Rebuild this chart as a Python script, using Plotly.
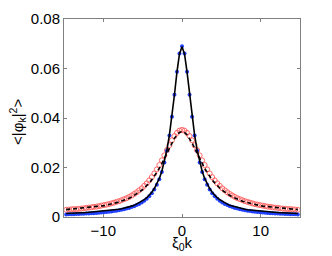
import plotly.graph_objects as go

k_vals = [-14.72, -14.40, -14.08, -13.76, -13.44, -13.12, -12.80, -12.48, -12.16, -11.84,
          -11.52, -11.20, -10.88, -10.56, -10.24, -9.92, -9.60, -9.28, -8.96, -8.64,
          -8.32, -8.00, -7.68, -7.36, -7.04, -6.72, -6.40, -6.08, -5.76, -5.44,
          -5.12, -4.80, -4.48, -4.16, -3.84, -3.52, -3.20, -2.88, -2.56, -2.24,
          -1.92, -1.60, -1.28, -0.96, -0.64, -0.32, 0.00,
          0.32, 0.64, 0.96, 1.28, 1.60, 1.92, 2.24, 2.56, 2.88, 3.20,
          3.52, 3.84, 4.16, 4.48, 4.80, 5.12, 5.44, 5.76, 6.08, 6.40,
          6.72, 7.04, 7.36, 7.68, 8.00, 8.32, 8.64, 8.96, 9.28, 9.60,
          9.92, 10.24, 10.56, 10.88, 11.20, 11.52, 11.84, 12.16, 12.48, 12.80,
          13.12, 13.44, 13.76, 14.08, 14.40, 14.72]

blue_sim = [0.0010, 0.0011, 0.0011, 0.0011, 0.0012, 0.0012, 0.0013, 0.0013, 0.0014, 0.0014,
            0.0015, 0.0015, 0.0016, 0.0017, 0.0018, 0.0019, 0.0020, 0.0021, 0.0022, 0.0024,
            0.0025, 0.0027, 0.0029, 0.0031, 0.0034, 0.0036, 0.0040, 0.0043, 0.0048, 0.0053,
            0.0059, 0.0066, 0.0074, 0.0084, 0.0096, 0.0111, 0.0130, 0.0153, 0.0182, 0.0220,
            0.0268, 0.0329, 0.0405, 0.0494, 0.0587, 0.0661, 0.0690,
            0.0661, 0.0587, 0.0494, 0.0405, 0.0329, 0.0268, 0.0220, 0.0182, 0.0153, 0.0130,
            0.0111, 0.0096, 0.0084, 0.0074, 0.0066, 0.0059, 0.0053, 0.0048, 0.0043, 0.0040,
            0.0036, 0.0034, 0.0031, 0.0029, 0.0027, 0.0025, 0.0024, 0.0022, 0.0021, 0.0020,
            0.0019, 0.0018, 0.0017, 0.0016, 0.0015, 0.0015, 0.0014, 0.0014, 0.0013, 0.0013,
            0.0012, 0.0012, 0.0011, 0.0011, 0.0011, 0.0010]

blue_fit = [0.0014, 0.0015, 0.0015, 0.0015, 0.0016, 0.0016, 0.0017, 0.0017, 0.0018, 0.0018,
            0.0019, 0.0019, 0.0020, 0.0021, 0.0022, 0.0023, 0.0024, 0.0025, 0.0026, 0.0028,
            0.0029, 0.0031, 0.0033, 0.0035, 0.0038, 0.0040, 0.0044, 0.0047, 0.0052, 0.0057,
            0.0063, 0.0070, 0.0078, 0.0088, 0.0100, 0.0115, 0.0133, 0.0156, 0.0185, 0.0223,
            0.0271, 0.0331, 0.0406, 0.0494, 0.0586, 0.0659, 0.0688,
            0.0659, 0.0586, 0.0494, 0.0406, 0.0331, 0.0271, 0.0223, 0.0185, 0.0156, 0.0133,
            0.0115, 0.0100, 0.0088, 0.0078, 0.0070, 0.0063, 0.0057, 0.0052, 0.0047, 0.0044,
            0.0040, 0.0038, 0.0035, 0.0033, 0.0031, 0.0029, 0.0028, 0.0026, 0.0025, 0.0024,
            0.0023, 0.0022, 0.0021, 0.0020, 0.0019, 0.0019, 0.0018, 0.0018, 0.0017, 0.0017,
            0.0016, 0.0016, 0.0015, 0.0015, 0.0015, 0.0014]

red_sim = [0.0029, 0.0030, 0.0031, 0.0032, 0.0032, 0.0033, 0.0034, 0.0035, 0.0037, 0.0038,
           0.0039, 0.0041, 0.0042, 0.0044, 0.0046, 0.0048, 0.0050, 0.0052, 0.0055, 0.0058,
           0.0061, 0.0064, 0.0068, 0.0072, 0.0076, 0.0081, 0.0087, 0.0093, 0.0100, 0.0108,
           0.0116, 0.0126, 0.0136, 0.0148, 0.0161, 0.0176, 0.0192, 0.0210, 0.0229, 0.0249,
           0.0270, 0.0290, 0.0310, 0.0327, 0.0340, 0.0349, 0.0352,
           0.0349, 0.0340, 0.0327, 0.0310, 0.0290, 0.0270, 0.0249, 0.0229, 0.0210, 0.0192,
           0.0176, 0.0161, 0.0148, 0.0136, 0.0126, 0.0116, 0.0108, 0.0100, 0.0093, 0.0087,
           0.0081, 0.0076, 0.0072, 0.0068, 0.0064, 0.0061, 0.0058, 0.0055, 0.0052, 0.0050,
           0.0048, 0.0046, 0.0044, 0.0042, 0.0041, 0.0039, 0.0038, 0.0037, 0.0035, 0.0034,
           0.0033, 0.0032, 0.0032, 0.0031, 0.0030, 0.0029]

red_fit = [0.0030, 0.0031, 0.0031, 0.0032, 0.0033, 0.0034, 0.0034, 0.0035, 0.0036, 0.0037,
           0.0039, 0.0040, 0.0041, 0.0043, 0.0044, 0.0046, 0.0048, 0.0050, 0.0052, 0.0055,
           0.0058, 0.0061, 0.0064, 0.0067, 0.0072, 0.0076, 0.0081, 0.0087, 0.0093, 0.0100,
           0.0108, 0.0117, 0.0126, 0.0138, 0.0150, 0.0164, 0.0180, 0.0197, 0.0216, 0.0236,
           0.0258, 0.0279, 0.0299, 0.0318, 0.0332, 0.0342, 0.0345,
           0.0342, 0.0332, 0.0318, 0.0299, 0.0279, 0.0258, 0.0236, 0.0216, 0.0197, 0.0180,
           0.0164, 0.0150, 0.0138, 0.0126, 0.0117, 0.0108, 0.0100, 0.0093, 0.0087, 0.0081,
           0.0076, 0.0072, 0.0067, 0.0064, 0.0061, 0.0058, 0.0055, 0.0052, 0.0050, 0.0048,
           0.0046, 0.0044, 0.0043, 0.0041, 0.0040, 0.0039, 0.0037, 0.0036, 0.0035, 0.0034,
           0.0034, 0.0033, 0.0032, 0.0031, 0.0031, 0.0030]

x_ticks = [-10, 0, 10]
y_ticks = [0, 0.02, 0.04, 0.06, 0.08]
y_tick_text = ["0", "0.02", "0.04", "0.06", "0.08"]
x_title = "ξ<sub>0</sub>k"
y_title = "&lt;|φ<sub>k</sub>|<sup>2</sup>&gt;"

FONT = "Liberation Sans, Arial, sans-serif"
FS = 15

fig = go.Figure()
fig.add_trace(go.Scatter(x=k_vals, y=red_sim, mode="markers",
                         marker=dict(symbol="circle-open", size=5, color="#ff5a5a",
                                     line=dict(width=0.9, color="#ff5a5a")),
                         showlegend=False))
fig.add_trace(go.Scatter(x=k_vals, y=blue_sim, mode="markers",
                         marker=dict(symbol="circle", size=4, color="#2040ff"),
                         showlegend=False))
fig.add_trace(go.Scatter(x=k_vals, y=blue_fit, mode="lines",
                         line=dict(color="black", width=1.6),
                         showlegend=False))
fig.add_trace(go.Scatter(x=k_vals, y=red_fit, mode="lines",
                         line=dict(color="black", width=1.6, dash="4px,3px"),
                         showlegend=False))

axis_common = dict(showgrid=False, zeroline=False, showline=True, linecolor="#808080",
                   linewidth=1, mirror="ticks", ticks="inside", ticklen=3,
                   tickcolor="#808080", automargin=False,
                   tickfont=dict(family=FONT, size=FS, color="black"))

fig.update_xaxes(range=[-15, 15], tickvals=x_ticks, **axis_common)
fig.update_yaxes(range=[0, 0.08], tickvals=y_ticks, ticktext=y_tick_text, **axis_common)

# The page body has an 8px margin, so the figure is offset; margins compensate.
fig.update_layout(template="none", width=332, height=256,
                  margin=dict(l=56, r=40, t=11, b=47, autoexpand=False),
                  plot_bgcolor="white", paper_bgcolor="white",
                  annotations=[
                      dict(text=x_title, xref="paper", yref="paper", x=0.5, y=-0.135,
                           xanchor="center", yanchor="middle", showarrow=False,
                           font=dict(family=FONT, size=FS, color="black")),
                      dict(text=y_title, xref="paper", yref="paper", x=-0.195, y=0.48,
                           xanchor="center", yanchor="middle", showarrow=False, textangle=-90,
                           font=dict(family=FONT, size=FS, color="black")),
                  ])

fig.write_html("out.html")
